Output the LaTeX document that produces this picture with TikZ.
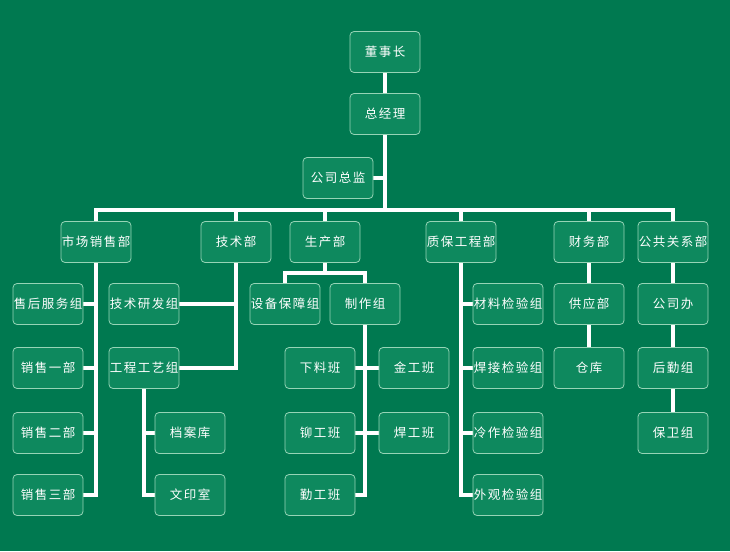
\documentclass[tikz,border=0pt]{standalone}
\usepackage{fontspec}
\newfontfamily\cjk[LetterSpace=12]{Noto Sans CJK SC}
\definecolor{bgc}{RGB}{0,121,80}
\definecolor{boxfill}{RGB}{14,137,94}
\definecolor{boxline}{RGB}{150,212,182}
\pgfdeclarelayer{bg}
\pgfdeclarelayer{lines}
\pgfsetlayers{bg,lines,main}
\tikzset{
  box/.style={draw=boxline, line width=0.8pt, fill=boxfill, rounded corners=4pt,
    minimum width=70pt, minimum height=41pt, inner sep=0pt, text=white,
    font=\cjk\fontsize{12.5pt}{14pt}\selectfont},
  conn/.style={draw=white, line width=4pt}
}
\begin{document}
\begin{tikzpicture}[x=1pt,y=-1pt]
\begin{pgfonlayer}{bg}
\fill[bgc] (0,0) rectangle (730,551);
\end{pgfonlayer}
\useasboundingbox (0,0) rectangle (730,551);
% level 0-1
\node[box] (dsz) at (385,52) {董事长};
\node[box] (zjl) at (385,114) {总经理};
\node[box] (zj) at (338,178) {公司总监};
% level 2
\node[box] (m) at (96,242) {市场销售部};
\node[box] (js) at (236,242) {技术部};
\node[box] (sc) at (325,242) {生产部};
\node[box] (zb) at (461,242) {质保工程部};
\node[box] (cw) at (589,242) {财务部};
\node[box] (gg) at (673,242) {公共关系部};
% market
\node[box] (m1) at (48,304) {售后服务组};
\node[box] (m2) at (48,368) {销售一部};
\node[box] (m3) at (48,433) {销售二部};
\node[box] (m4) at (48,495) {销售三部};
% tech
\node[box] (j1) at (144,304) {技术研发组};
\node[box] (j2) at (144,368) {工程工艺组};
\node[box] (j3) at (190,433) {档案库};
\node[box] (j4) at (190,495) {文印室};
% production
\node[box] (s1) at (285,304) {设备保障组};
\node[box] (s2) at (365,304) {制作组};
\node[box] (b1) at (320,368) {下料班};
\node[box] (b2) at (414,368) {金工班};
\node[box] (b3) at (320,433) {铆工班};
\node[box] (b4) at (414,433) {焊工班};
\node[box] (b5) at (320,495) {勤工班};
% quality
\node[box] (q1) at (508,304) {材料检验组};
\node[box] (q2) at (508,368) {焊接检验组};
\node[box] (q3) at (508,433) {冷作检验组};
\node[box] (q4) at (508,495) {外观检验组};
% finance
\node[box] (c1) at (589,304) {供应部};
\node[box] (c2) at (589,368) {仓库};
% public
\node[box] (g1) at (673,304) {公司办};
\node[box] (g2) at (673,368) {后勤组};
\node[box] (g3) at (673,433) {保卫组};
\coordinate (bus) at (385,210);
\coordinate (scj) at (325,273);
\begin{pgfonlayer}{lines}
\draw[conn] (dsz.south) -- (zjl.north);
\draw[conn] (zjl.south) -- (bus);
\draw[conn] (zj.east) -- (zj.east -| zjl.south);
\draw[conn] (m.north) |- (bus) -| (gg.north);
\draw[conn] (js.north) -- (js.north |- bus);
\draw[conn] (sc.north) -- (sc.north |- bus);
\draw[conn] (zb.north) -- (zb.north |- bus);
\draw[conn] (cw.north) -- (cw.north |- bus);
% market
\draw[conn] (m.south) |- (m4.east);
\draw[conn] (m1.east) -- (m1.east -| m.south);
\draw[conn] (m2.east) -- (m2.east -| m.south);
\draw[conn] (m3.east) -- (m3.east -| m.south);
% tech
\draw[conn] (js.south) |- (j2.east);
\draw[conn] (j1.east) -- (j1.east -| js.south);
\draw[conn] (j2.south) |- (j4.west);
\draw[conn] (j3.west) -- (j3.west -| j2.south);
% production
\draw[conn] (sc.south) -- (scj);
\draw[conn] (s1.north) |- (scj) -| (s2.north);
\draw[conn] (s2.south) |- (b5.east);
\draw[conn] (b1.east) -- (b2.west);
\draw[conn] (b3.east) -- (b4.west);
% quality
\draw[conn] (zb.south) |- (q4.west);
\draw[conn] (q1.west) -- (q1.west -| zb.south);
\draw[conn] (q2.west) -- (q2.west -| zb.south);
\draw[conn] (q3.west) -- (q3.west -| zb.south);
% finance
\draw[conn] (cw.south) -- (c1.north);
\draw[conn] (c1.south) -- (c2.north);
% public
\draw[conn] (gg.south) -- (g1.north);
\draw[conn] (g1.south) -- (g2.north);
\draw[conn] (g2.south) -- (g3.north);
\end{pgfonlayer}
\end{tikzpicture}
\end{document}
